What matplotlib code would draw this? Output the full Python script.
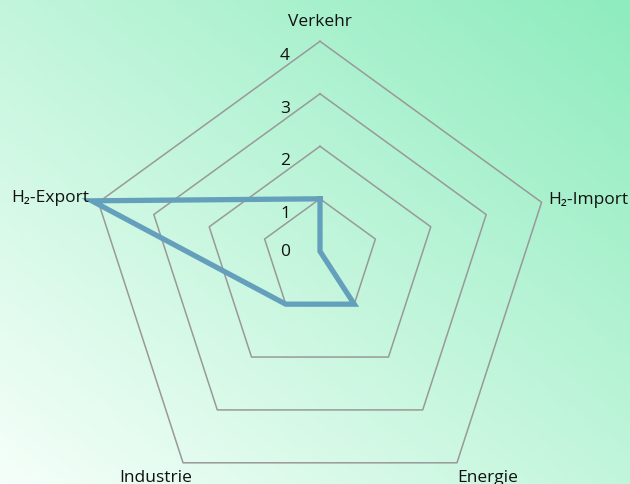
import numpy as np
import matplotlib.pyplot as plt
from matplotlib.colors import LinearSegmentedColormap

plt.rcParams['font.family'] = ['Open Sans', 'DejaVu Sans']

# Daten
categories = ['Verkehr', 'H₂-Import', 'Energie', 'Industrie', 'H₂-Export']
values = [1, 0, 1, 1, 4.12]
levels = [1, 2, 3, 4]
tick_labels = ['0', '1', '2', '3', '4']

# Geometrie (Pixel)
W, H = 630, 485
cx, cy = 320, 252.3
k = 58.25      # Pixel pro Einheit
d = 5.75       # Verschiebung nach unten pro Einheit
angles = np.deg2rad(np.arange(len(categories)) * 72)


def pos(v, a):
    return cx + k * v * np.sin(a), cy - k * v * np.cos(a) + d * v


fig = plt.figure(figsize=(W / 100, H / 100), dpi=100)
ax = fig.add_axes([0, 0, 1, 1])
ax.set_xlim(0, W)
ax.set_ylim(H, 0)
ax.axis('off')

# Hintergrundverlauf
xx, yy = np.meshgrid(np.linspace(0, W, 320), np.linspace(0, H, 250))
t = 0.5 * xx / W + 0.5 * (1 - yy / H)
cmap = LinearSegmentedColormap.from_list('bg', ['#f5fff9', '#8eecbe'])
ax.imshow(t, cmap=cmap, extent=[0, W, H, 0], aspect='auto', zorder=0)

# Gitter
for lv in levels:
    px, py = pos(lv, np.append(angles, angles[0]))
    ax.plot(px, py, color='#999999', lw=1.1, zorder=1)

# Daten
vals = np.append(values, values[0])
px, py = pos(vals, np.append(angles, angles[0]))
ax.plot(px, py, color='#64a0bc', lw=3.8, solid_joinstyle='miter', zorder=2)

# Skalenbeschriftung
for i, lab in enumerate(tick_labels):
    x, y = pos(i, 0)
    off = 14 if i > 0 else 0
    ax.text(x - 35, y + off, lab, fontsize=12.5, ha='center', va='center', color='#111111', zorder=3)

# Achsenbeschriftung
label_off = [(0, -20, 'center'), (7, -3, 'left'), (31, 14, 'center'), (-27, 14, 'center'), (-9, -5, 'right')]
for lab, a, (ox, oy, ha) in zip(categories, angles, label_off):
    x, y = pos(4, a)
    ax.text(x + ox, y + oy, lab, fontsize=12.5, ha=ha, va='center', color='#111111', zorder=3)

fig.savefig('out.png', dpi=100)
